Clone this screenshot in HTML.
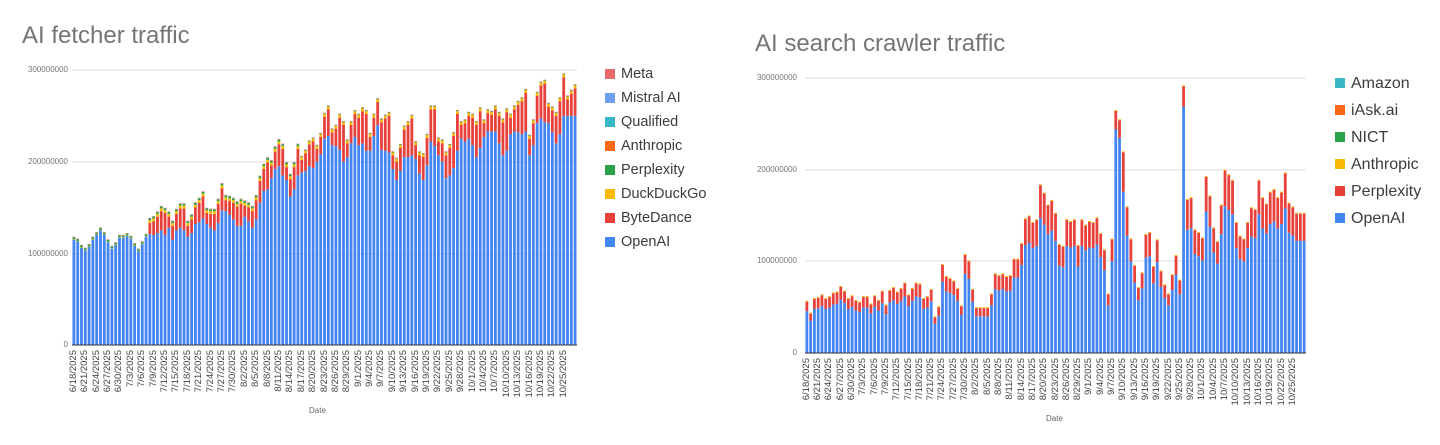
<!DOCTYPE html>
<html><head><meta charset="utf-8"><style>
body{margin:0;background:#fff;width:1440px;height:445px;overflow:hidden;font-family:"Liberation Sans",Arial,sans-serif;position:relative}
.t{position:absolute;color:#757575;font-size:24px;white-space:nowrap}
.lg{position:absolute;font-size:14.5px;color:#3c3c3c}
.lg div{height:24px;line-height:24px;position:relative;padding-left:16px}
.lg span{position:absolute;left:0;top:7px;width:10px;height:10px}
.yl{position:absolute;font-size:8px;color:#777;text-align:right;width:70px}
.xl{position:absolute;font-size:9.5px;color:#444;transform:rotate(-90deg);transform-origin:0 0;white-space:nowrap;text-align:right;width:64px}
.d{position:absolute;font-size:8px;color:#666}
svg{position:absolute;left:0;top:0}
</style></head><body>
<div class="t" style="left:22px;top:22px">AI fetcher traffic</div>
<div class="t" style="left:755px;top:30px">AI search crawler traffic</div>
<svg id="s" width="1440" height="445"></svg>
<div class="yl" style="left:-2px;top:65px">300000000</div>
<div class="yl" style="left:-2px;top:157px">200000000</div>
<div class="yl" style="left:-2px;top:249px">100000000</div>
<div class="yl" style="left:-2px;top:340px">0</div>
<div class="yl" style="left:727px;top:73px">300000000</div>
<div class="yl" style="left:727px;top:165px">200000000</div>
<div class="yl" style="left:727px;top:256px">100000000</div>
<div class="yl" style="left:727px;top:348px">0</div>
<div class="lg" style="left:605px;top:62px">
<div><span style="background:#e86c6c"></span>Meta</div>
<div><span style="background:#6fa0f0"></span>Mistral AI</div>
<div><span style="background:#39b7c4"></span>Qualified</div>
<div><span style="background:#fb6a12"></span>Anthropic</div>
<div><span style="background:#2aa24a"></span>Perplexity</div>
<div><span style="background:#fbba09"></span>DuckDuckGo</div>
<div><span style="background:#e8403a"></span>ByteDance</div>
<div><span style="background:#4385f2"></span>OpenAI</div>
</div>
<div class="lg" style="left:1335px;top:70px;font-size:16px">
<div style="height:27px;line-height:27px"><span style="background:#39b7c4;top:8px"></span>Amazon</div>
<div style="height:27px;line-height:27px"><span style="background:#fb6a12;top:8px"></span>iAsk.ai</div>
<div style="height:27px;line-height:27px"><span style="background:#2aa24a;top:8px"></span>NICT</div>
<div style="height:27px;line-height:27px"><span style="background:#fbba09;top:8px"></span>Anthropic</div>
<div style="height:27px;line-height:27px"><span style="background:#e8403a;top:8px"></span>Perplexity</div>
<div style="height:27px;line-height:27px"><span style="background:#4385f2;top:8px"></span>OpenAI</div>
</div>
<div class="d" style="left:309px;top:406px">Date</div>
<div class="d" style="left:1046px;top:414px">Date</div>
<div id="L"><div class="xl">6/18/2025</div><div class="xl">6/21/2025</div><div class="xl">6/24/2025</div><div class="xl">6/27/2025</div><div class="xl">6/30/2025</div><div class="xl">7/3/2025</div><div class="xl">7/6/2025</div><div class="xl">7/9/2025</div><div class="xl">7/12/2025</div><div class="xl">7/15/2025</div><div class="xl">7/18/2025</div><div class="xl">7/21/2025</div><div class="xl">7/24/2025</div><div class="xl">7/27/2025</div><div class="xl">7/30/2025</div><div class="xl">8/2/2025</div><div class="xl">8/5/2025</div><div class="xl">8/8/2025</div><div class="xl">8/11/2025</div><div class="xl">8/14/2025</div><div class="xl">8/17/2025</div><div class="xl">8/20/2025</div><div class="xl">8/23/2025</div><div class="xl">8/26/2025</div><div class="xl">8/29/2025</div><div class="xl">9/1/2025</div><div class="xl">9/4/2025</div><div class="xl">9/7/2025</div><div class="xl">9/10/2025</div><div class="xl">9/13/2025</div><div class="xl">9/16/2025</div><div class="xl">9/19/2025</div><div class="xl">9/22/2025</div><div class="xl">9/25/2025</div><div class="xl">9/28/2025</div><div class="xl">10/1/2025</div><div class="xl">10/4/2025</div><div class="xl">10/7/2025</div><div class="xl">10/10/2025</div><div class="xl">10/13/2025</div><div class="xl">10/16/2025</div><div class="xl">10/19/2025</div><div class="xl">10/22/2025</div><div class="xl">10/25/2025</div></div>
<div id="R"><div class="xl">6/18/2025</div><div class="xl">6/21/2025</div><div class="xl">6/24/2025</div><div class="xl">6/27/2025</div><div class="xl">6/30/2025</div><div class="xl">7/3/2025</div><div class="xl">7/6/2025</div><div class="xl">7/9/2025</div><div class="xl">7/12/2025</div><div class="xl">7/15/2025</div><div class="xl">7/18/2025</div><div class="xl">7/21/2025</div><div class="xl">7/24/2025</div><div class="xl">7/27/2025</div><div class="xl">7/30/2025</div><div class="xl">8/2/2025</div><div class="xl">8/5/2025</div><div class="xl">8/8/2025</div><div class="xl">8/11/2025</div><div class="xl">8/14/2025</div><div class="xl">8/17/2025</div><div class="xl">8/20/2025</div><div class="xl">8/23/2025</div><div class="xl">8/26/2025</div><div class="xl">8/29/2025</div><div class="xl">9/1/2025</div><div class="xl">9/4/2025</div><div class="xl">9/7/2025</div><div class="xl">9/10/2025</div><div class="xl">9/13/2025</div><div class="xl">9/16/2025</div><div class="xl">9/19/2025</div><div class="xl">9/22/2025</div><div class="xl">9/25/2025</div><div class="xl">9/28/2025</div><div class="xl">10/1/2025</div><div class="xl">10/4/2025</div><div class="xl">10/7/2025</div><div class="xl">10/10/2025</div><div class="xl">10/13/2025</div><div class="xl">10/16/2025</div><div class="xl">10/19/2025</div><div class="xl">10/22/2025</div><div class="xl">10/25/2025</div></div>
<script>
var N=133;
function pad(a){while(a.length<N)a.push(a[a.length-1]);return a.slice(0,N);}
var lo=pad([115,113,106,103,107,115,120,125,120,112,105,109,117,117,119,116,108,102,110,118,121,120,122,125,120,128,115,125,128,125,118,122,132,134,138,132,128,125,133,147,146,142,137,130,130,140,135,128,137,155,168,170,182,192,195,185,180,162,170,185,188,190,195,193,200,208,225,228,218,217,213,200,205,220,227,218,220,212,212,228,240,213,212,210,192,180,190,205,205,207,203,187,180,196,222,217,207,200,182,185,193,212,225,222,225,218,205,215,227,233,233,233,220,207,212,230,233,232,230,233,207,218,242,247,243,242,232,220,230,250,250,250,250]);
var rt=pad([57,44,60,61,64,60,62,66,67,73,68,60,63,58,56,62,62,54,63,58,68,53,69,72,67,71,77,64,71,77,76,60,62,70,40,51,97,84,82,79,71,52,108,101,70,50,50,50,50,65,87,85,87,84,85,103,103,120,147,150,143,146,184,175,162,167,153,119,117,146,144,146,118,146,140,144,143,148,131,113,65,125,265,255,220,160,125,96,72,88,130,132,95,124,90,75,65,86,107,80,292,168,170,135,132,126,193,172,137,122,162,200,195,189,143,128,125,143,159,157,189,170,163,176,179,170,176,197,164,160,153]);
var s='';
function bar(x,y0,sc,segs,w){var y=y0;segs.forEach(function(g){var h=g[0]*sc;s+='<rect x="'+x.toFixed(2)+'" y="'+(y-h).toFixed(2)+'" width="'+w+'" height="'+h.toFixed(2)+'" fill="'+g[1]+'"/>';y-=h;});}
[70,162,254].forEach(function(y){s+='<line x1="72" x2="577" y1="'+y+'" y2="'+y+'" stroke="#ddd"/>';});
[78,170,261].forEach(function(y){s+='<line x1="805" x2="1306" y1="'+y+'" y2="'+y+'" stroke="#ddd"/>';});
var sl=(345-70)/300,sr=(353-78)/300,dl=(577-72)/N,dr=(1306-805)/N;
for(var i=0;i<N;i++){
 var o=lo[i],bd=i<20?0:(i<50?12+(i%5)*3:(i<70?14+(i%4)*5:(i<110?15+(i%6)*5:(18+(i%5)*6))));
 var pp=i<60?2:0.7,dd=i<20?0.5:3;
 bar(72+i*dl+0.5,345,sl,[[o,'#4385f2'],[bd,'#e8403a'],[dd,'#fbba09'],[pp,'#2aa24a'],[0.7,'#e86c6c']],(dl-1).toFixed(2));
 var t=rt[i],op=t*(t>240?0.92:0.8);
 bar(805+i*dr+0.5,353,sr,[[op,'#4385f2'],[t-op-1,'#e8403a'],[1,'#fbba09']],(dr-1).toFixed(2));
}
s+='<line x1="72" x2="577" y1="345" y2="345" stroke="#333"/><line x1="805" x2="1306" y1="353" y2="353" stroke="#333"/>';
document.getElementById('s').innerHTML=s;
function lab(id,x0,d,y){var e=document.getElementById(id).children;for(var k=0;k<e.length;k++){e[k].style.left=(x0+k*3*d-6)+'px';e[k].style.top=(y+64)+'px';}}
lab('L',72+dl/2,dl,350);lab('R',805+dr/2,dr,358);
</script>
</body></html>
